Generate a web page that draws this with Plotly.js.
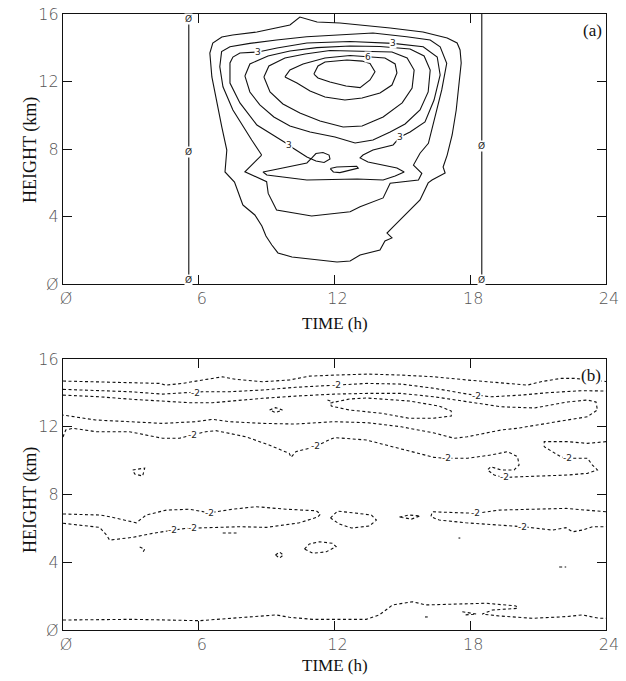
<!DOCTYPE html>
<html><head><meta charset="utf-8">
<script src="https://cdn.plot.ly/plotly-3.0.1.min.js"></script>
<style>html,body{margin:0;padding:0;background:#fff}</style>
</head><body><div id="chart" style="width:626px;height:681px"></div>
<script>
// ---------- Panel (a): positive contours (levels 1..7) ----------
const A_C1_X = [7.95,8.48,8.79,8.97,9.23,9.50,10.12,12.11,12.69,13.13,14.01,14.23,14.54,14.32,14.59,15.21,15.78,16.14,16.31,16.89,16.80,16.98,17.20,17.38,17.51,17.60,17.55,17.42,16.98,15.91,14.46,12.98,12.24,11.23,10.47,10.03,8.57,7.50,7.02,6.62,6.49,6.58,6.80,7.02,7.24,7.16,7.58,7.95];
const A_C1_Y = [4.68,4.09,3.44,2.84,2.31,1.84,1.60,1.30,1.36,1.72,2.01,2.55,2.73,3.02,3.38,4.21,4.98,5.99,6.16,6.58,6.93,7.64,8.83,10.31,11.91,13.10,13.87,14.28,14.58,14.93,15.17,15.35,15.47,15.53,15.82,15.35,14.93,14.76,14.64,14.28,13.69,12.27,10.73,9.30,7.94,6.64,6.04,4.68];
const A_C2_X = [8.78,8.04,9.00,9.07,9.44,10.99,12.69,13.13,14.15,14.46,15.71,15.86,15.49,15.78,16.15,16.52,16.74,16.96,16.67,16.23,15.19,13.70,12.24,10.77,9.44,8.26,7.38,7.01,6.93,7.07,7.51,8.12,8.34,8.78];
const A_C2_Y = [7.64,6.65,6.06,5.37,4.38,4.03,4.28,4.58,5.10,5.97,6.16,6.56,7.05,7.75,8.34,10.31,11.50,13.08,14.06,14.46,14.65,14.87,14.76,14.65,14.46,14.26,14.06,13.77,12.88,11.69,10.31,8.95,8.53,7.64];
const A_C3_X = [11.00,11.18,11.49,11.76,11.80,11.54,11.18,10.78,10.16,9.99,9.28,8.57,7.82,7.38,7.38,7.51,7.82,8.62,9.46,10.78,12.69,13.70,14.59,15.92,16.54,16.67,16.40,16.00,15.34,14.90,14.59,13.70,13.26,13.13,13.48,14.76,15.08,14.68,14.15,13.00,10.78,9.01,8.84,9.28,10.78,11.00];
const A_C3_Y = [7.47,7.73,7.79,7.64,7.41,7.20,7.29,7.53,8.06,8.24,8.83,9.42,10.73,11.91,13.10,13.45,13.69,13.75,13.99,14.28,14.37,14.30,14.26,14.06,13.45,12.39,10.90,9.60,9.01,8.71,8.24,7.94,7.64,7.47,7.23,6.87,6.64,6.40,6.16,6.22,6.16,6.46,6.64,6.76,7.17,7.47];
const A_C4_X = [8.04,8.26,9.06,10.03,11.22,12.69,14.01,15.34,15.96,16.23,16.14,15.78,15.12,14.46,13.70,12.91,12.02,10.92,10.03,9.32,8.70,8.26,8.04];
const A_C4_Y = [12.33,13.04,13.51,13.81,14.01,14.10,14.07,13.93,13.51,12.68,11.38,10.31,9.48,9.01,8.53,8.36,8.71,9.01,9.36,9.90,10.61,11.38,12.33];
const A_C4B_X = [11.81,12.10,12.98,13.05,12.24,11.95,11.81];
const A_C4B_Y = [6.84,6.93,6.98,6.87,6.60,6.64,6.84];
const A_C5_X = [8.88,9.10,9.81,10.70,11.80,13.44,14.54,15.21,15.52,15.43,14.99,14.15,13.22,12.38,11.36,10.47,9.72,9.15,8.88];
const A_C5_Y = [12.27,12.92,13.39,13.63,13.84,13.81,13.75,13.39,12.68,11.61,10.73,9.90,9.36,9.30,9.66,10.13,10.67,11.38,12.27];
const A_C6_X = [9.81,10.03,10.61,11.58,12.69,13.48,14.23,14.68,14.76,14.54,14.01,13.22,12.46,11.58,10.92,10.34,9.81];
const A_C6_Y = [12.27,12.68,13.04,13.39,13.54,13.48,13.39,13.04,12.50,11.79,11.32,11.02,10.90,11.08,11.44,11.91,12.27];
const A_C7_X = [11.09,11.27,11.58,12.55,13.22,13.57,13.79,13.57,13.13,12.51,11.80,11.27,11.09];
const A_C7_Y = [12.44,12.92,13.16,13.27,13.21,13.07,12.58,12.09,11.64,11.73,11.97,12.21,12.44];
// zero contours (sunrise / sunset)
const A_Z1_X = [5.56,5.56], A_Z1_Y = [0,15.95];
const A_Z2_X = [18.51,18.51], A_Z2_Y = [0,16];
// contour labels
const A_LAB_X = [8.62,14.59,9.99,14.90,13.48,5.56,5.56,5.56,18.51,18.51];
const A_LAB_Y = [13.75,14.28,8.24,8.71,13.48,15.70,7.80,0.25,8.15,0.25];
const A_LAB_T = ['3','3','3','3','6','Ø','Ø','Ø','Ø','Ø'];

// ---------- Panel (b): negative contours (dashed, level -2) ----------
const B_L1_X = [0,1.44,2.94,4.27,4.53,5.28,6.17,7.05,7.62,8.82,10.01,10.89,11.99,13.45,14.95,16.41,17.87,19.37,20.52,21.13,22.02,22.59,23.25,24.0];
const B_L1_Y = [14.70,14.66,14.60,14.56,14.46,14.56,14.76,14.95,14.80,14.66,14.76,14.99,15.05,15.11,15.05,14.95,14.76,14.60,14.46,14.66,14.86,14.86,14.76,14.67];
const B_L2_X = [0,1.44,2.94,4.40,5.28,6.17,7.36,8.82,10.27,11.99,13.45,14.95,16.41,17.87,18.93,20.25,21.41,22.90,24.0];
const B_L2_Y = [14.21,14.13,14.07,13.93,14.01,14.07,14.07,14.17,14.33,14.46,14.56,14.52,14.27,13.93,13.77,13.87,14.01,14.13,14.11];
const B_L3_X = [0,1.62,3.08,4.57,5.59,6.61,7.36,8.82,10.27,11.99,13.45,14.95,16.41,17.87,19.37,20.83,22.29,23.17,23.56,23.62,23.17,22.29,20.83,20.08,19.37,18.62,17.87,17.29,16.41,14.95,13.45,11.99,10.27,8.82,7.36,6.61,5.86,4.40,2.94,1.44,0];
const B_L3_Y = [13.87,13.77,13.62,13.48,13.42,13.42,13.52,13.68,13.81,13.93,13.97,13.97,13.77,13.48,13.18,13.11,13.46,13.58,13.46,12.99,12.59,12.40,12.10,11.91,11.81,11.61,11.41,11.32,11.63,12.00,12.24,12.30,12.16,12.20,12.30,12.44,12.30,12.20,12.30,12.40,12.69];
const B_LENS_X = [11.82,12.66,13.41,15.31,16.63,17.16,17.16,16.32,15.31,14.12,12.66,11.86,11.82];
const B_LENS_Y = [13.40,13.64,13.70,13.52,13.22,12.93,12.63,12.50,12.50,12.79,12.99,13.22,13.40];
const B_L5_X = [0,0.12,0.43,1.46,2.93,4.40,5.14,5.73,6.31,6.76,8.08,9.11,10.00,10.08,10.29,10.88,11.17,11.76,12.00,13.40,14.94,16.41,16.93,17.88,18.91,19.65,20.09,20.16,19.94,19.36,18.91,18.76,19.06,19.50,20.24,21.41,22.30,23.18,23.62,23.40,23.18,22.30,22.00,21.27,21.27,22.30,23.18,24.0];
const B_L5_Y = [11.39,11.81,11.91,11.71,11.71,11.32,11.32,11.51,11.71,11.77,11.41,10.92,10.43,10.20,10.53,10.73,10.86,11.22,11.36,11.22,10.68,10.19,10.14,10.14,10.33,10.53,10.23,9.74,9.45,9.45,9.64,9.45,9.15,9.01,9.05,9.09,9.15,9.25,9.45,9.74,10.14,10.14,10.23,10.82,11.12,11.12,11.02,11.12];
const B_D1_X = [9.13,9.39,9.70,9.39,9.13], B_D1_Y = [12.99,13.13,12.99,12.84,12.99];
const B_D2_X = [3.08,3.61,3.52,3.17,3.08], B_D2_Y = [9.45,9.56,9.09,9.21,9.45];
const B_D3_X = [11.69,11.95], B_D3_Y = [13.58,13.46];
const B_MA_X = [0,1.62,2.06,3.24,3.68,4.57,5.59,6.48,7.49,8.54,9.86,11.19,11.38,11.26,10.45,8.98,7.80,6.61,5.74,5.45,4.86,3.97,3.08,2.06,1.92,1.62,0];
const B_MA_Y = [6.85,6.79,6.69,6.33,6.79,7.08,7.13,6.92,7.13,7.28,7.13,7.04,6.85,6.67,6.33,6.06,6.10,6.04,6.04,6.00,5.90,5.71,5.47,5.31,5.61,6.06,6.30];
const B_MB_X = [11.82,12.13,12.88,13.63,13.85,13.54,12.75,12.22,11.82];
const B_MB_Y = [6.61,7.02,6.91,6.79,6.49,6.14,6.02,6.26,6.61];
const B_MC_X = [14.87,15.31,15.79,15.40,14.87], B_MC_Y = [6.67,6.79,6.73,6.55,6.67];
const B_MR_X = [24.0,22.96,22.23,20.74,19.28,18.25,16.32,16.26,16.63,17.81,20.31,21.63,22.23,22.52,22.96,23.40,24.0];
const B_MR_Y = [6.98,7.08,7.18,7.13,7.08,6.89,6.98,6.69,6.49,6.33,6.10,5.90,6.04,5.80,5.90,6.10,6.10];
const B_S1_X = [3.39,3.61,3.52], B_S1_Y = [4.90,4.78,4.55];
const B_S2_X = [7.06,7.67], B_S2_Y = [5.73,5.73];
const B_S3_X = [9.39,9.57,9.74,9.57,9.39], B_S3_Y = [4.43,4.60,4.43,4.25,4.43];
const B_S4_X = [10.67,10.89,11.33,11.91,12.07,11.64,11.04,10.67], B_S4_Y = [4.78,5.08,5.21,5.12,4.92,4.62,4.53,4.78];
const B_S5_X = [17.48,17.56], B_S5_Y = [5.43,5.43];
const B_S6_X = [21.93,22.24], B_S6_Y = [3.72,3.72];
const B_BL_X = [0,3.08,6.04,9.42,10.01,11.02,13.40,13.98,14.57,15.45,16.04,17.22,18.69,20.02,20.09,18.98,18.53,19.28,20.75,22.23,22.96,23.69,24.0];
const B_BL_Y = [0.59,0.63,0.55,0.89,0.75,0.63,0.63,0.89,1.48,1.67,1.48,1.53,1.58,1.42,1.28,1.18,0.94,0.83,0.69,0.79,0.89,0.69,0.69];
const B_S7_X = [17.65,18.27,17.74], B_S7_Y = [1.08,0.94,0.89];
const B_S8_X = [16.00,16.12], B_S8_Y = [0.77,0.77];
const B_LAB_X = [5.87,12.08,18.26,5.73,11.17,16.93,19.50,22.30,6.48,4.86,5.74,18.25,20.31];
const B_LAB_Y = [13.99,14.46,13.81,11.51,10.86,10.14,9.01,10.14,6.92,5.90,6.04,6.89,6.10];
const B_LAB_T = ['-2','-2','-2','-2','-2','-2','-2','-2','-2','-2','-2','-2','-2'];

// axis text
const X_TITLE = 'TIME (h)', Y_TITLE = 'HEIGHT (km)';
const ZERO_ALIAS = {'0': 'Ø'};

// ---------- build ----------
const traces = [];
function add(x, y, ax, dashed) {
  traces.push({x: x, y: y, type: 'scatter', mode: 'lines', xaxis: ax[0], yaxis: ax[1],
    hoverinfo: 'skip', showlegend: false,
    line: {color: '#111', width: 1.1, dash: dashed ? '3px,2.5px' : 'solid', shape: 'linear'}});
}
const A = ['x', 'y'], B = ['x2', 'y2'];
[[A_C1_X,A_C1_Y],[A_C2_X,A_C2_Y],[A_C3_X,A_C3_Y],[A_C4_X,A_C4_Y],[A_C4B_X,A_C4B_Y],[A_C5_X,A_C5_Y],[A_C6_X,A_C6_Y],[A_C7_X,A_C7_Y],[A_Z1_X,A_Z1_Y],[A_Z2_X,A_Z2_Y]].forEach(p => add(p[0], p[1], A, false));
[[B_L1_X,B_L1_Y],[B_L2_X,B_L2_Y],[B_L3_X,B_L3_Y],[B_LENS_X,B_LENS_Y],[B_L5_X,B_L5_Y],[B_D1_X,B_D1_Y],[B_D2_X,B_D2_Y],[B_D3_X,B_D3_Y],[B_MA_X,B_MA_Y],[B_MB_X,B_MB_Y],[B_MC_X,B_MC_Y],[B_MR_X,B_MR_Y],[B_S1_X,B_S1_Y],[B_S2_X,B_S2_Y],[B_S3_X,B_S3_Y],[B_S4_X,B_S4_Y],[B_S5_X,B_S5_Y],[B_S6_X,B_S6_Y],[B_BL_X,B_BL_Y],[B_S7_X,B_S7_Y],[B_S8_X,B_S8_Y]].forEach(p => add(p[0], p[1], B, true));

const labFont = {family: 'DejaVu Sans', size: 9, color: '#222'};
const annotations = [];
A_LAB_X.forEach((x, i) => annotations.push({x: x, y: A_LAB_Y[i], xref: 'x', yref: 'y', text: A_LAB_T[i], showarrow: false, bgcolor: '#fff', borderpad: 0, font: labFont}));
B_LAB_X.forEach((x, i) => annotations.push({x: x, y: B_LAB_Y[i], xref: 'x2', yref: 'y2', text: B_LAB_T[i], showarrow: false, bgcolor: '#fff', borderpad: 0, font: labFont}));
const serif = {family: 'Liberation Serif, Times New Roman, serif', size: 17, color: '#111'};
const serifY = {family: 'Liberation Serif, Times New Roman, serif', size: 18, color: '#111'};
annotations.push({x: 1, y: 1, xref: 'paper', yref: 'paper', xanchor: 'right', yanchor: 'top', xshift: -3, yshift: -6, text: '(a)', showarrow: false, bgcolor: '#fff', borderpad: 0, font: serif});
annotations.push({x: 1, y: 0.4399, xref: 'paper', yref: 'paper', xanchor: 'right', yanchor: 'top', xshift: -4, yshift: -6, text: '(b)', showarrow: false, bgcolor: '#fff', borderpad: 0, font: serif});
annotations.push({x: 0.5, y: 1, xref: 'paper', yref: 'paper', xanchor: 'center', yanchor: 'middle', yshift: -(323 - 14), text: X_TITLE, showarrow: false, font: serif});
annotations.push({x: 0.5, y: 1, xref: 'paper', yref: 'paper', xanchor: 'center', yanchor: 'middle', yshift: -(665 - 14), text: X_TITLE, showarrow: false, font: serif});
annotations.push({x: 0, y: 1, xref: 'paper', yref: 'paper', xanchor: 'center', yanchor: 'middle', xshift: -(63 - 30), yshift: -(150 - 14), textangle: -90, text: Y_TITLE, showarrow: false, font: serifY});
annotations.push({x: 0, y: 1, xref: 'paper', yref: 'paper', xanchor: 'center', yanchor: 'middle', xshift: -(63 - 30), yshift: -(500 - 14), textangle: -90, text: Y_TITLE, showarrow: false, font: serifY});

const tickFont = {family: 'DejaVu Sans', size: 16, color: '#555', weight: 200};
function xax(anchor) {
  return {anchor: anchor, range: [0, 24], tickmode: 'linear', tick0: 0, dtick: 6, labelalias: ZERO_ALIAS,
    ticks: 'inside', ticklen: 9, tickwidth: 1, tickcolor: '#111', mirror: 'ticks', showline: true, linecolor: '#111', linewidth: 1.3,
    showgrid: false, zeroline: false, tickfont: tickFont, ticklabelshift: 3};
}
function yax(anchor, dom) {
  return {anchor: anchor, domain: dom, range: [0, 16], tickmode: 'linear', tick0: 0, dtick: 4, labelalias: ZERO_ALIAS,
    ticks: 'inside', ticklen: 9, tickwidth: 1, tickcolor: '#111', mirror: 'ticks', showline: true, linecolor: '#111', linewidth: 1.3,
    showgrid: false, zeroline: false, tickfont: tickFont};
}
const layout = {
  width: 626, height: 681, paper_bgcolor: '#fff', plot_bgcolor: '#fff',
  margin: {l: 63, r: 20, t: 14, b: 51}, showlegend: false,
  xaxis: xax('y'), yaxis: yax('x', [0.5617, 1]),
  xaxis2: xax('y2'), yaxis2: yax('x2', [0, 0.4399]),
  annotations: annotations
};
Plotly.newPlot('chart', traces, layout, {displayModeBar: false});
</script></body></html>
